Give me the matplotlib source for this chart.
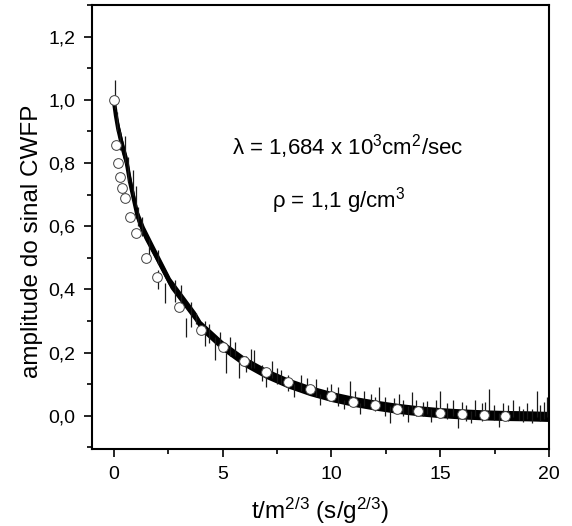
import numpy as np
import matplotlib
matplotlib.use('Agg')
import matplotlib.pyplot as plt
from matplotlib.ticker import MultipleLocator, FuncFormatter

plt.rcParams['font.family'] = ['Liberation Sans', 'DejaVu Sans']
plt.rcParams['mathtext.default'] = 'regular'

# CWFP signal trace (centre of the noisy band)
trace_x = [0, 0.1, 0.2, 0.4, 0.6, 0.75, 1.1, 1.4, 1.85, 2.6, 3.75, 4.0, 5, 6, 7, 8, 9,
           10, 11, 12, 13, 14, 15, 16, 17, 18, 19, 20]
trace_y = [1.0, 0.95, 0.91, 0.85, 0.80, 0.74, 0.63, 0.58, 0.52, 0.42, 0.314, 0.285, 0.222,
           0.172, 0.134, 0.104, 0.080, 0.061, 0.046, 0.034, 0.024, 0.016, 0.010, 0.006,
           0.003, 0.001, 0.0, -0.002]
band_half = [0.01, 0.02, 0.025, 0.025, 0.025, 0.025, 0.022, 0.02, 0.018, 0.017, 0.016,
             0.016, 0.016, 0.016, 0.016, 0.016, 0.016, 0.016, 0.016, 0.016, 0.016, 0.016,
             0.016, 0.016, 0.016, 0.016, 0.016, 0.016]

# noise spikes: x, low end, high end
spike_x = [0.05, 0.15, 0.3, 0.5, 0.65, 0.89, 1.04, 1.12, 1.3, 1.6, 2.03, 2.04, 2.34, 2.8,
           3.1, 3.34, 3.55, 3.8, 4.2, 4.4, 4.64, 4.87, 5.18, 5.35, 5.56, 5.75, 6.1, 6.3,
           6.45, 6.8, 7.0, 7.25, 7.5, 7.7, 8.0, 8.3, 8.6, 8.9, 9.3, 9.5, 9.8, 10.0, 10.3,
           10.6, 10.85, 11.1, 11.3, 11.5, 11.8, 12.0, 12.2, 12.45, 12.7, 12.9, 13.1, 13.3,
           13.5, 13.7, 13.9, 14.2, 14.4, 14.6, 14.8, 15.0, 15.3, 15.6, 15.8, 16.0, 16.2,
           16.4, 16.6, 16.9, 17.05, 17.24, 17.45, 17.7, 17.9, 18.1, 18.35, 18.6, 18.8, 19.0,
           19.2, 19.43, 19.6, 19.75, 19.9]
spike_lo = [0.97, 0.90, 0.84, 0.80, 0.74, 0.70, 0.66, 0.60, 0.57, 0.49, 0.40, 0.48, 0.357,
            0.36, 0.34, 0.25, 0.28, 0.29, 0.22, 0.23, 0.177, 0.22, 0.135, 0.19, 0.19, 0.119,
            0.14, 0.15, 0.15, 0.11, 0.09, 0.12, 0.10, 0.10, 0.08, 0.06, 0.08, 0.07, 0.06,
            0.035, 0.05, 0.05, 0.03, 0.02, 0.04, 0.03, 0.005, 0.03, 0.02, 0.015, 0.02, 0.0,
            -0.022, 0.01, 0.015, 0.0, -0.02, 0.01, 0.0, 0.0, 0.005, -0.02, 0.0, 0.0, -0.01,
            0.0, -0.037, -0.01, -0.015, -0.022, 0.0, -0.015, -0.01, 0.0, -0.012, -0.034,
            -0.01, -0.015, -0.005, -0.012, -0.02, -0.01, -0.022, -0.005, -0.015, -0.01,
            -0.005]
spike_hi = [1.063, 0.96, 0.90, 0.884, 0.82, 0.778, 0.726, 0.66, 0.63, 0.56, 0.46, 0.525,
            0.42, 0.43, 0.415, 0.31, 0.36, 0.325, 0.30, 0.29, 0.25, 0.264, 0.2, 0.25, 0.235,
            0.18, 0.19, 0.21, 0.207, 0.16, 0.13, 0.172, 0.15, 0.146, 0.13, 0.10, 0.13, 0.12,
            0.115, 0.07, 0.09, 0.10, 0.09, 0.05, 0.11, 0.08, 0.04, 0.08, 0.07, 0.06, 0.092,
            0.06, 0.03, 0.055, 0.07, 0.05, 0.03, 0.075, 0.05, 0.045, 0.047, 0.02, 0.05,
            0.079, 0.04, 0.05, 0.01, 0.045, 0.035, 0.015, 0.05, 0.04, 0.045, 0.084, 0.035,
            0.01, 0.04, 0.035, 0.05, 0.03, 0.02, 0.04, 0.02, 0.079, 0.035, 0.045, 0.06]

# open circles
circ_x = [0, 0.1, 0.2, 0.3, 0.4, 0.5, 0.75, 1, 1.5, 2, 3, 4, 5, 6, 7, 8, 9, 10, 11, 12,
          13, 14, 15, 16, 17, 18]
circ_y = [1.0, 0.857, 0.80, 0.757, 0.722, 0.69, 0.629, 0.58, 0.50, 0.439, 0.343, 0.273,
          0.218, 0.174, 0.138, 0.108, 0.084, 0.063, 0.045, 0.033, 0.023, 0.015, 0.008,
          0.005, 0.002, 0.0]

fig = plt.figure(figsize=(5.72, 5.26), dpi=100)
ax = fig.add_axes([0.1608, 0.1464, 0.799, 0.8441])

ty = np.array(trace_y)
bh = np.array(band_half)
ax.fill_between(trace_x, ty - bh, ty + bh, color='black', lw=0)
ax.plot(trace_x, trace_y, color='black', lw=3)
ax.vlines(spike_x, spike_lo, spike_hi, color='0.1', lw=0.9)
ax.plot(circ_x, circ_y, 'o', ms=7, mfc='white', mec='0.25', mew=0.7, zorder=5)

ax.set_xlim(-1, 20)
ax.set_ylim(-0.105, 1.3)
ax.xaxis.set_major_locator(MultipleLocator(5))
ax.xaxis.set_minor_locator(MultipleLocator(2.5))
ax.yaxis.set_major_locator(MultipleLocator(0.2))
ax.yaxis.set_minor_locator(MultipleLocator(0.1))
ax.yaxis.set_major_formatter(FuncFormatter(lambda v, p: ('%.1f' % v).replace('.', ',')))
ax.tick_params(which='both', direction='out', width=1.2, labelsize=14)
ax.tick_params(which='major', length=6, pad=6)
ax.tick_params(which='minor', length=3.5)
for s in ax.spines.values():
    s.set_linewidth(1.5)

ax.set_xlabel('t/m$^{2/3}$ (s/g$^{2/3}$)', fontsize=17.5)
ax.set_ylabel('amplitude do sinal CWFP', fontsize=17.5)
ax.yaxis.set_label_coords(-0.108, 0.468)
ax.xaxis.set_label_coords(0.5, -0.105)

ax.text(5.43, 0.826, 'λ = 1,684 x 10$^{3}$cm$^{2}$/sec', fontsize=16, va='baseline')
ax.text(7.26, 0.658, 'ρ = 1,1 g/cm$^{3}$', fontsize=16, va='baseline')

fig.savefig('out.png', dpi=100)
